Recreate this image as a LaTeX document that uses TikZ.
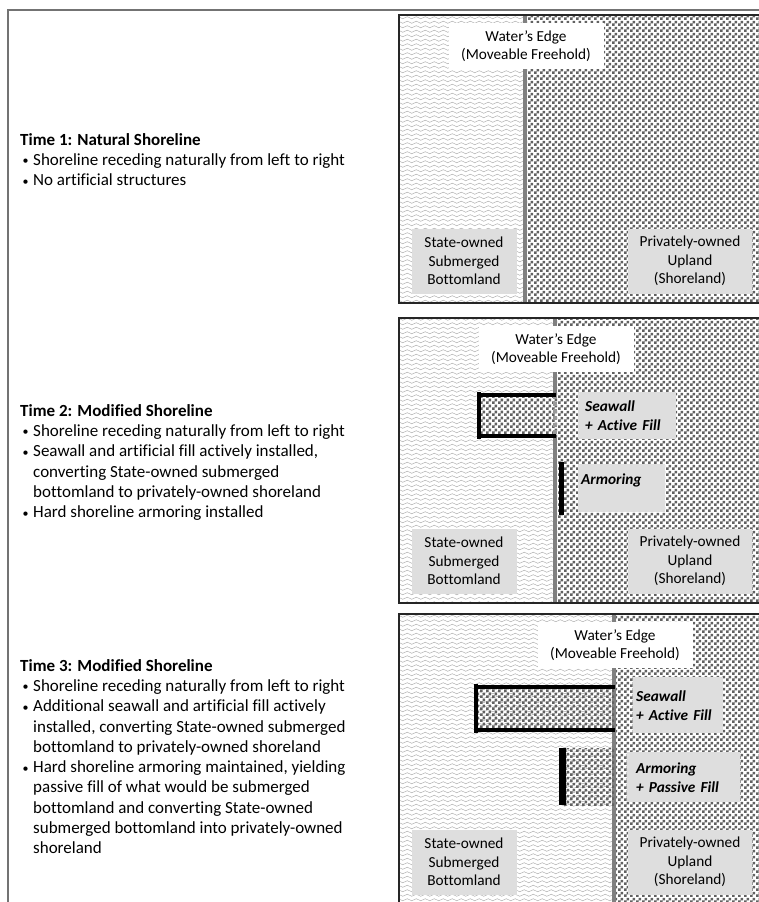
\documentclass[tikz,border=0pt]{standalone}
\usepackage{fontspec}
\setmainfont{Carlito}[Ligatures={TeX,NoCommon}]
\usetikzlibrary{patterns}

% wavy lines for the submerged side
\pgfdeclarepatternformonly{waves}{\pgfpoint{-1pt}{-1pt}}{\pgfpoint{10pt}{5.5pt}}{\pgfpoint{9pt}{4.5pt}}{%
  \pgfsetlinewidth{0.45pt}%
  \pgfpathmoveto{\pgfpoint{0pt}{2.25pt}}%
  \pgfpathsine{\pgfpoint{2.25pt}{1.1pt}}%
  \pgfpathcosine{\pgfpoint{2.25pt}{-1.1pt}}%
  \pgfpathsine{\pgfpoint{2.25pt}{-1.1pt}}%
  \pgfpathcosine{\pgfpoint{2.25pt}{1.1pt}}%
  \pgfusepath{stroke}%
}
% checker dots for the upland side
\pgfdeclarepatternformonly{checkers}{\pgfpointorigin}{\pgfpoint{6pt}{6pt}}{\pgfpoint{6pt}{6pt}}{%
  \pgfpathrectangle{\pgfpointorigin}{\pgfpoint{3pt}{3pt}}%
  \pgfpathrectangle{\pgfpoint{3pt}{3pt}}{\pgfpoint{3pt}{3pt}}%
  \pgfusepath{fill}%
}

\newcommand{\bitem}{\hspace*{2.5pt}\makebox[10.5pt][l]{\raisebox{0.5pt}{\fontsize{12}{12}\selectfont•}}}
\newcommand{\bmore}{\hspace*{13pt}}

\begin{document}
\begin{tikzpicture}[
    x=1pt, y=-1pt,
    font=\fontsize{15.3}{18.5}\selectfont,
    panel/.style={draw=black!85, line width=1.8pt},
    water/.style={pattern=waves, pattern color=black!32},
    upland/.style={pattern=checkers, pattern color=black!62},
    shore/.style={draw=black!50, line width=3.5pt},
    wall/.style={draw=black, line width=3.3pt},
    edgebox/.style={fill=white, align=center, minimum width=155pt, minimum height=46pt, inner sep=0pt},
    tag/.style={fill=black!13, align=center, minimum height=65pt, inner sep=0pt},
    fillbox/.style={fill=black!13, anchor=north west, align=left, inner ysep=0pt,
      font=\fontsize{15.3}{19}\selectfont\bfseries\itshape},
    notes/.style={anchor=north west, align=left, inner sep=0pt, font=\fontsize{17}{20.3}\selectfont},
  ]
  \useasboundingbox (0,0) rectangle (759,902);

  % ---- outer frame ----
  \draw[draw=black!55, line width=1.6pt] (8,902) -- (8,10) -- (759,10);

  % ---- the three panels: water, upland, shore ----
  \foreach \i/\ya/\yb/\sx in {1/15/303/525, 2/318/603/555, 3/614/904/614} {
    \fill[white] (399,\ya) rectangle (770,\yb);
    \fill[water] (399,\ya) rectangle (\sx,\yb);
    \fill[upland] (\sx,\ya) rectangle (770,\yb);
    \draw[shore] (\sx,\ya) -- (\sx,\yb);
  }

  % ---- time 2: seawall and armoring ----
  \fill[white] (479,395) rectangle (557,436);
  \fill[upland] (479,395) rectangle (557,436);
  \draw[shore, draw=black!40, dash pattern=on 4pt off 3pt] (555,395) -- (555,436);
  \draw[wall] (479,392) -- (479,439);
  \draw[wall] (479,395) -- (556,395);
  \draw[wall] (479,436) -- (556,436);
  \draw[draw=black, line width=5pt] (561,462) -- (561,515);
  \node[fillbox, text width=84pt, inner xsep=7pt, minimum height=47pt] (wall2) at (578,392)
    {Seawall\\+ Active Fill};
  \node[fillbox, text width=81pt, inner xsep=3pt, minimum height=48pt] (armor2) at (578,464)
    {Armoring\\\mbox{}};

  % ---- time 3: longer seawall, armoring with passive fill ----
  \fill[upland] (476,687) rectangle (614,730);
  \fill[upland] (562,748) rectangle (614,805);
  \draw[wall] (476,684) -- (476,733);
  \draw[wall] (476,687) -- (615,687);
  \draw[wall] (476,730) -- (615,730);
  \draw[draw=black, line width=7pt] (562,748) -- (562,805);
  \node[fillbox, text width=84pt, inner xsep=3pt, minimum height=56pt] (wall3) at (633,677)
    {Seawall\\+ Active Fill};
  \node[fillbox, text width=95pt, inner xsep=9pt, minimum height=50pt] (armor3) at (627,752)
    {Armoring\\+ Passive Fill};

  % ---- labels common to all panels ----
  \foreach \i/\ya/\yb/\sx in {1/15/303/525, 2/318/603/555, 3/614/904/614} {
    \node[edgebox] (edge\i) at (\sx+1,\ya+31) {Water’s Edge\\(Moveable Freehold)};
    \node[tag, minimum width=105pt] (state\i) at (464,\yb-42) {State-owned\\Submerged\\Bottomland};
    \node[tag, minimum width=124pt] (private\i) at (690,\yb-42) {Privately-owned\\Upland\\(Shoreland)};
    \draw[panel] (399,\ya) rectangle (770,\yb);
  }

  % ---- notes on the left ----
  \node[notes] (time1) at (20,133) {\textbf{Time 1: Natural Shoreline}\\
    \bitem Shoreline receding naturally from left to right\\
    \bitem No artificial structures};
  \node[notes] (time2) at (20,404) {\textbf{Time 2: Modified Shoreline}\\
    \bitem Shoreline receding naturally from left to right\\
    \bitem Seawall and artificial fill actively installed,\\
    \bmore converting State-owned submerged\\
    \bmore bottomland to privately-owned shoreland\\
    \bitem Hard shoreline armoring installed};
  \node[notes] (time3) at (20,659) {\textbf{Time 3: Modified Shoreline}\\
    \bitem Shoreline receding naturally from left to right\\
    \bitem Additional seawall and artificial fill actively\\
    \bmore installed, converting State-owned submerged\\
    \bmore bottomland to privately-owned shoreland\\
    \bitem Hard shoreline armoring maintained, yielding\\
    \bmore passive fill of what would be submerged\\
    \bmore bottomland and converting State-owned\\
    \bmore submerged bottomland into privately-owned\\
    \bmore shoreland};
\end{tikzpicture}
\end{document}
